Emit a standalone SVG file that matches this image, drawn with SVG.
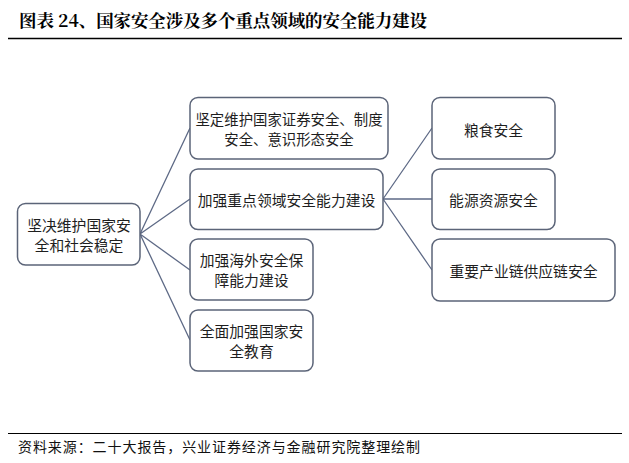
<svg xmlns="http://www.w3.org/2000/svg" width="629" height="463" viewBox="0 0 629 463">
<style>
.box{fill:#ffffff;stroke:#5b6478;stroke-width:1.5}
.t{font-family:"Noto Sans CJK SC","Noto Sans",sans-serif;font-size:14.8px;fill:#1e1e1e;text-anchor:middle;dominant-baseline:central}
.s{font-size:14.4px}
.ln{stroke:#5e6a86;stroke-width:1.3;fill:none}
.title{font-family:"Noto Serif CJK SC","Noto Sans CJK SC",serif;font-size:17.5px;font-weight:bold;fill:#000}
.foot{font-family:"Noto Sans CJK SC",sans-serif;font-size:14px;fill:#111}
</style>
<rect width="629" height="463" fill="#ffffff"/>
<text class="title" x="19" y="27" textLength="408">图表 24、国家安全涉及多个重点领域的安全能力建设</text>
<line x1="8" y1="38.5" x2="622" y2="38.5" stroke="#000" stroke-width="1.5"/>
<g id="connectors">
<path class="ln" d="M140,234 L190,128 M140,234 L190,199 M140,234 L190,270 M140,234 L190,340"/>
<path class="ln" d="M383,199 L432,128 M383,199 L432,199 M383,199 L432,270"/>
</g>
<g id="root">
<rect class="box" x="17.5" y="203.5" width="122.5" height="61.5" rx="8"/>
<text class="t" x="79" y="224.5">坚决维护国家安</text>
<text class="t" x="79" y="244.5">全和社会稳定</text>
</g>
<g id="nodeA">
<rect class="box" x="190" y="97.5" width="198" height="61.5" rx="8"/>
<text class="t s" x="289" y="118">坚定维护国家证券安全、制度</text>
<text class="t s" x="289" y="138.5">安全、意识形态安全</text>
</g>
<g id="nodeB">
<rect class="box" x="190" y="169" width="193" height="60.5" rx="8"/>
<text class="t" x="286.5" y="199">加强重点领域安全能力建设</text>
</g>
<g id="nodeC">
<rect class="box" x="190" y="239" width="123" height="61" rx="8"/>
<text class="t" x="251.5" y="259.5">加强海外安全保</text>
<text class="t" x="251.5" y="279.5">障能力建设</text>
</g>
<g id="nodeD">
<rect class="box" x="190" y="310" width="123" height="61" rx="8"/>
<text class="t" x="251.5" y="330.5">全面加强国家安</text>
<text class="t" x="251.5" y="350.5">全教育</text>
</g>
<g id="nodeE">
<rect class="box" x="432" y="97.5" width="123" height="61.5" rx="8"/>
<text class="t" x="493.5" y="129">粮食安全</text>
</g>
<g id="nodeF">
<rect class="box" x="432" y="169" width="123" height="60.5" rx="8"/>
<text class="t" x="493.5" y="199">能源资源安全</text>
</g>
<g id="nodeG">
<rect class="box" x="432" y="239" width="183" height="62" rx="8"/>
<text class="t" x="523.5" y="270">重要产业链供应链安全</text>
</g>
<line x1="8" y1="433.5" x2="622" y2="433.5" stroke="#000" stroke-width="1"/>
<text class="foot" x="18" y="452" textLength="402">资料来源：二十大报告，兴业证券经济与金融研究院整理绘制</text>
</svg>
